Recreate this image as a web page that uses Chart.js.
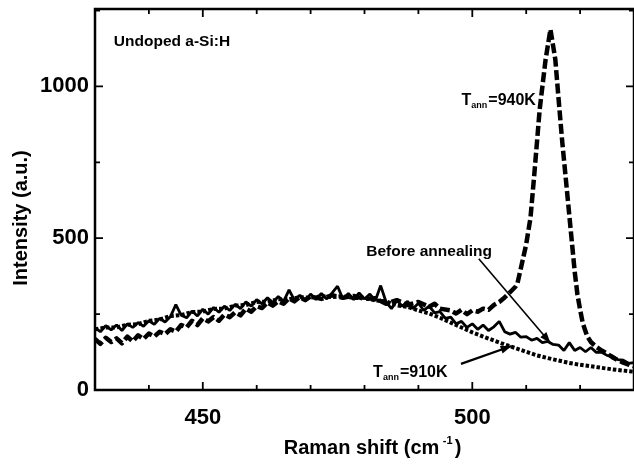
<!DOCTYPE html>
<html>
<head>
<meta charset="utf-8">
<script src="https://cdn.jsdelivr.net/npm/chart.js@4/dist/chart.umd.min.js"></script>
<style>
html,body{margin:0;padding:0;background:#fff;}
#wrap{width:634px;height:466px;}
</style>
</head>
<body>
<div id="wrap"><canvas id="c" width="634" height="466"></canvas></div>
<script>
// ---- data ----
const xTickLabels = [450, 500];
const yTickLabels = [0, 500, 1000];
const xMinorTicks = [430, 440, 450, 460, 470, 480, 490, 500, 510, 520, 530];
const yMinorTicks = [0, 250, 500, 750, 1000, 1250];

const beforeShift = [430,431,432,433,434,435,436,437,438,439,440,441,442,443,444,445,446,447,448,449,
  450,451,452,453,454,455,456,457,458,459,460,461,462,463,464,465,466,467,468,469,
  470,471,472,473,474,475,476,477,478,479,480,481,482,483,484,485,486,487,488,489,
  490,491,492,493,494,495,496,497,498,499,500,501,502,503,504,505,506,507,508,509,
  510,511,512,513,514,515,516,517,518,519,520,521,522,523,524,525,526,527,528,529,530];
const beforeIntensity = [205,192,212,198,214,196,218,206,222,210,228,216,236,224,242,281,246,238,260,244,
  266,250,272,256,276,262,282,268,290,276,298,284,304,288,308,292,330,296,312,294,
  316,298,318,300,320,342,300,318,298,320,300,316,294,344,290,268,296,276,292,268,
  286,262,276,254,258,236,240,218,226,206,218,200,214,196,208,226,192,184,190,174,
  176,164,170,156,160,150,148,130,156,130,140,126,140,124,124,114,112,100,98,88,90];

const anneal910Shift = [430,432,434,436,438,440,442,444,446,448,450,452,454,456,458,460,462,464,466,468,
  470,472,474,476,478,480,482,484,486,488,490,492,494,496,498,500,502,504,506,508,
  510,512,514,516,518,520,522,524,526,528,530];
const anneal910Intensity = [200,206,206,215,217,228,232,244,247,257,258,267,268,278,280,290,291,299,299,306,
  304,309,306,309,303,304,295,292,279,274,262,252,238,222,206,190,176,163,150,138,
  126,114,105,97,89,83,78,73,68,64,60];

const anneal940Shift = [430,431,432,433,434,435,436,437,438,439,440,441,442,443,444,445,446,447,448,449,
  450,451,452,453,454,455,456,457,458,459,460,461,462,463,464,465,466,467,468,469,
  470,472,474,476,478,480,482,484,486,488,490,492,493,494,496,497,498,499,500,501,
  502,503,504,505,506,507,508,508.4,509,510,510.8,511.5,512.5,513.6,514.5,515.4,516,516.7,517,518,
  519,519.5,520,520.5,521.3,522,523,524,525,526,527,528,529,530];
const anneal940Intensity = [168,152,172,158,170,154,176,160,180,168,186,176,192,184,200,192,214,206,228,214,
  236,226,240,228,248,240,256,246,268,258,276,270,288,278,292,284,302,292,306,296,
  308,300,312,304,310,300,302,284,296,280,290,274,284,268,262,252,264,250,262,258,
  268,264,280,290,305,322,340,353,400,480,568,710,924,1089,1188,1089,960,815,760,575,
  390,315,265,220,178,158,142,130,120,108,98,90,84,78];

const xRange = [430, 530];
const yRange = [0, 1255];

function pts(xs, ys){ return xs.map((v,i)=>({x:v, y:ys[i]})); }

const FONT = '"Liberation Sans", Arial, sans-serif';

function arrow(ctx, x1, y1, x2, y2){
  ctx.beginPath(); ctx.moveTo(x1,y1); ctx.lineTo(x2,y2); ctx.stroke();
  const ang = Math.atan2(y2-y1, x2-x1), L = 11, W = 4;
  ctx.beginPath();
  ctx.moveTo(x2,y2);
  ctx.lineTo(x2 - L*Math.cos(ang) + W*Math.sin(ang), y2 - L*Math.sin(ang) - W*Math.cos(ang));
  ctx.lineTo(x2 - L*Math.cos(ang) - W*Math.sin(ang), y2 - L*Math.sin(ang) + W*Math.cos(ang));
  ctx.closePath(); ctx.fill();
}

function tLabel(ctx, px, py, suffix){
  ctx.textAlign='left'; ctx.textBaseline='alphabetic';
  ctx.font = 'bold 16px ' + FONT;
  ctx.fillText('T', px, py);
  let w = ctx.measureText('T').width;
  ctx.font = 'bold 9px ' + FONT;
  ctx.fillText('ann', px + w, py + 3);
  const w2 = ctx.measureText('ann').width;
  ctx.font = 'bold 16px ' + FONT;
  ctx.fillText(suffix, px + w + w2 + 1, py);
}

const decor = {
  id:'decor',
  afterDraw(chart){
    const {ctx, chartArea:a, scales:{x, y}} = chart;
    ctx.save();
    ctx.strokeStyle='#000'; ctx.fillStyle='#000';
    ctx.lineWidth = 2.5;
    ctx.strokeRect(a.left, a.top, a.right - a.left, a.bottom - a.top);
    ctx.lineWidth = 1.8;
    ctx.beginPath();
    xMinorTicks.forEach(v=>{
      const px = x.getPixelForValue(v);
      const L = xTickLabels.includes(v) ? 8 : 5;
      ctx.moveTo(px, a.bottom); ctx.lineTo(px, a.bottom - L);
      ctx.moveTo(px, a.top); ctx.lineTo(px, a.top + L);
    });
    yMinorTicks.forEach(v=>{
      if (v > yRange[1]) return;
      const py = y.getPixelForValue(v);
      const L = yTickLabels.includes(v) ? 8 : 5;
      ctx.moveTo(a.left, py); ctx.lineTo(a.left + L, py);
      ctx.moveTo(a.right, py); ctx.lineTo(a.right - L, py);
    });
    ctx.stroke();

    // panel label
    ctx.font = 'bold 15.5px ' + FONT;
    ctx.textAlign='left'; ctx.textBaseline='middle';
    ctx.fillText('Undoped a-Si:H', x.getPixelForValue(433.5), y.getPixelForValue(1148));
    // curve labels
    ctx.textAlign='center';
    ctx.fillText('Before annealing', x.getPixelForValue(492.0), y.getPixelForValue(457));
    tLabel(ctx, x.getPixelForValue(498.0), y.getPixelForValue(960) + 6, '=940K');
    tLabel(ctx, x.getPixelForValue(481.6), y.getPixelForValue(62) + 6, '=910K');
    // arrows
    ctx.lineWidth = 1.6;
    arrow(ctx, x.getPixelForValue(501.2), y.getPixelForValue(432), x.getPixelForValue(514.5), y.getPixelForValue(155));
    ctx.lineWidth = 2.2;
    arrow(ctx, x.getPixelForValue(497.9), y.getPixelForValue(86), x.getPixelForValue(507.3), y.getPixelForValue(145));

    // axis titles
    ctx.textBaseline='alphabetic'; ctx.textAlign='left';
    const main = 'Raman shift (cm', sup = '-1', close = ')';
    ctx.font = 'bold 20px ' + FONT; const w1 = ctx.measureText(main + ' ').width;
    ctx.font = 'bold 11px ' + FONT; const w2 = ctx.measureText(sup).width;
    ctx.font = 'bold 20px ' + FONT; const w3 = ctx.measureText(close).width;
    const cx = (a.left + a.right)/2 + 8;
    let sx = cx - (w1 + w2 + w3)/2;
    const by = 454;
    ctx.fillText(main, sx, by);
    ctx.font = 'bold 11px ' + FONT;
    ctx.fillText(sup, sx + w1 - 2, by - 10);
    ctx.font = 'bold 20px ' + FONT;
    ctx.fillText(close, sx + w1 + w2, by);

    ctx.save();
    ctx.translate(27, 218);
    ctx.rotate(-Math.PI/2);
    ctx.textAlign='center'; ctx.textBaseline='alphabetic';
    ctx.font = 'bold 20px ' + FONT;
    ctx.fillText('Intensity (a.u.)', 0, 0);
    ctx.restore();
    ctx.restore();
  }
};

new Chart(document.getElementById('c'), {
  type:'line',
  data:{
    datasets:[
      {label:'T_ann=910K', data:pts(anneal910Shift, anneal910Intensity), borderColor:'#000', borderWidth:4,
       borderDash:[3.5,2], borderCapStyle:'butt', borderJoinStyle:'round', pointRadius:0, tension:0, fill:false},
      {label:'T_ann=940K', data:pts(anneal940Shift, anneal940Intensity), borderColor:'#000', borderWidth:4.5,
       borderDash:[10,3.5], borderCapStyle:'butt', borderJoinStyle:'round', pointRadius:0, tension:0, fill:false},
      {label:'Before annealing', data:pts(beforeShift, beforeIntensity), borderColor:'#000', borderWidth:2.8,
       borderJoinStyle:'bevel', pointRadius:0, tension:0, fill:false}
    ]
  },
  options:{
    responsive:false, animation:false,
    devicePixelRatio:1,
    layout:{padding:{top:9, right:0, left:0, bottom:0}},
    plugins:{legend:{display:false}, tooltip:{enabled:false}},
    scales:{
      x:{type:'linear', min:xRange[0], max:xRange[1],
         grid:{display:false, drawTicks:false}, border:{display:false},
         afterBuildTicks:s=>{ s.ticks = xTickLabels.map(v=>({value:v})); },
         afterFit:s=>{ s.height = 76; s.paddingLeft = 0; s.paddingRight = 0; },
         ticks:{padding:15, color:'#000', font:{family:FONT, size:22, weight:'bold'}, maxRotation:0,
                callback:v=>String(v)}
      },
      y:{type:'linear', min:yRange[0], max:yRange[1],
         grid:{display:false, drawTicks:false}, border:{display:false},
         afterBuildTicks:s=>{ s.ticks = yTickLabels.map(v=>({value:v})); },
         afterFit:s=>{ s.width = 95; s.paddingTop = 0; s.paddingBottom = 0; },
         ticks:{padding:6, color:'#000', font:{family:FONT, size:22, weight:'bold'},
                callback:v=>String(v)}
      }
    }
  },
  plugins:[decor]
});
</script>
</body>
</html>
